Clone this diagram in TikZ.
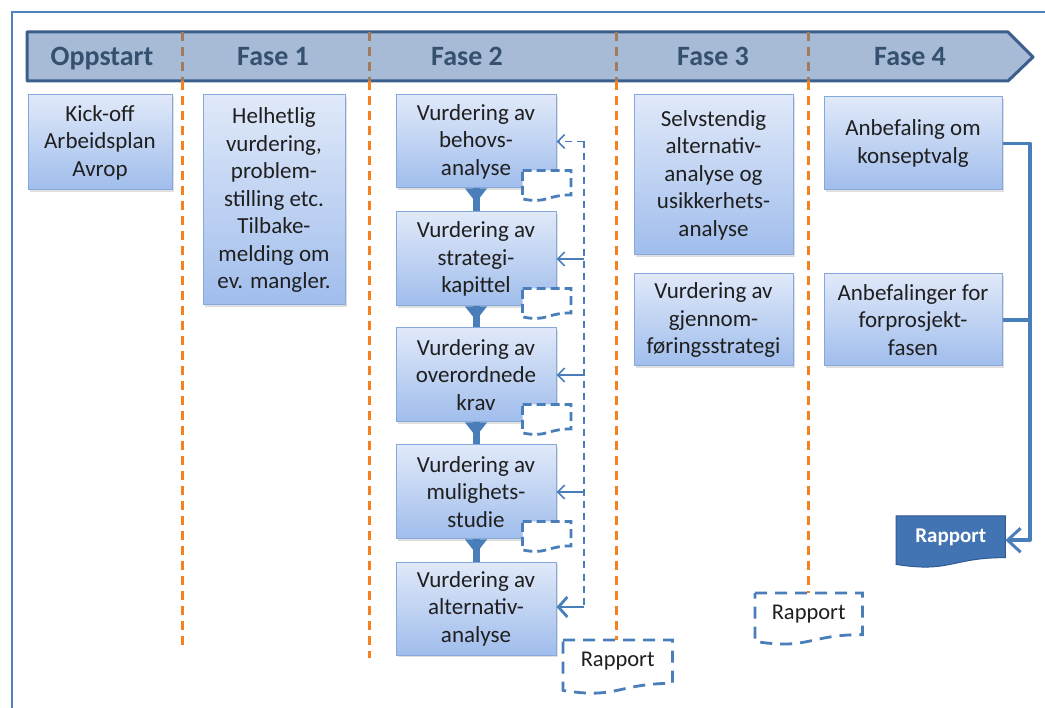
\documentclass[tikz,border=0pt]{standalone}
\usepackage{fontspec}
\setmainfont{Carlito}
\usetikzlibrary{arrows.meta,calc,shadows,backgrounds}

\definecolor{frameblue}{HTML}{4F81BD}
\definecolor{bannerfill}{HTML}{A7BBD6}
\definecolor{bannerline}{HTML}{3A5F8C}
\definecolor{phasetext}{HTML}{36506F}
\definecolor{boxtop}{HTML}{E0E9F9}
\definecolor{boxbot}{HTML}{A0BDEC}
\definecolor{boxline}{HTML}{86A8DA}
\definecolor{sepor}{HTML}{F5821F}
\definecolor{sepbr}{HTML}{A27A5C}
\definecolor{flow}{HTML}{4A7EBB}
\definecolor{rapfill}{HTML}{4274B4}
\definecolor{rapline}{HTML}{2F5A92}

% outline of a document symbol (wavy lower edge) around a node
\newcommand\docoutline[2]{%
  \path[#2] (#1.north west) -- (#1.north east)
    -- ($(#1.north east)!0.86!(#1.south east)$)
    .. controls ($(#1.north)!0.86!(#1.south)$) and ($(#1.north)!1.18!(#1.south)$)
    .. (#1.south west) -- cycle;}

\begin{document}
\begin{tikzpicture}[x=1pt,y=-1pt,
  phase/.style={font=\fontsize{28}{32}\selectfont\bfseries, text=phasetext, anchor=base},
  task/.style={draw=boxline, line width=1pt, top color=boxtop, bottom color=boxbot,
    align=center, font=\fontsize{23}{27.5}\selectfont, text=black!88, inner sep=0pt,
    drop shadow={opacity=0.25, shadow xshift=1.5pt, shadow yshift=-2pt}},
  docbox/.style={inner sep=0pt, anchor=north west},
  doctext/.style={font=\fontsize{22.5}{26}\selectfont, text=black!88},
  smalldoc/.style={draw=flow, fill=white, line width=2.8pt, dash pattern=on 9pt off 5pt},
  bigdoc/.style={draw=flow, line width=2.8pt, dash pattern=on 12pt off 8pt},
  sepin/.style={draw=sepbr, line width=3pt, dash pattern=on 9pt off 6pt},
  sepout/.style={draw=sepor, line width=3pt, dash pattern=on 9pt off 6pt},
  fbline/.style={draw=flow, line width=2pt, dash pattern=on 7pt off 5pt},
  fbarrow/.style={draw=flow, line width=1.6pt, -{Straight Barb[length=7pt,width=14pt]}},
  fbarrowbig/.style={draw=flow, line width=2.8pt, -{Straight Barb[length=9pt,width=20pt]}},
  stem/.style={draw=flow, line width=7pt},
  conn/.style={draw=flow, line width=3.5pt, line join=round}]

\useasboundingbox (0,0) rectangle (1045,708);
\fill[white] (0,0) rectangle (1045,708);

% frame
\draw[frameblue, line width=2.5pt] (12,708) -- (12,12) -- (1045,12);

% phase banner
\draw[fill=bannerfill, draw=bannerline, line width=3pt, line join=round]
  (27,32) -- (1008,32) -- (1033,57) -- (1008,81) -- (27,81) -- cycle;
\node[phase] (p0) at (102,66) {Oppstart};
\node[phase] (p1) at (273,66) {Fase 1};
\node[phase] (p2) at (467,66) {Fase 2};
\node[phase] (p3) at (713,66) {Fase 3};
\node[phase] (p4) at (910,66) {Fase 4};

% phase separators
\coordinate (s1a) at (182,32); \coordinate (s1b) at (182,81); \coordinate (s1c) at (182,650);
\coordinate (s2a) at (369,32); \coordinate (s2b) at (369,81); \coordinate (s2c) at (369,658);
\coordinate (s3a) at (616,32); \coordinate (s3b) at (616,81); \coordinate (s3c) at (616,640);
\coordinate (s4a) at (808,32); \coordinate (s4b) at (808,81); \coordinate (s4c) at (808,593);
\foreach \s in {s1,s2,s3,s4}{
  \draw[sepin] (\s a) -- (\s b);
  \draw[sepout] (\s b) -- (\s c);
}

% tasks
\node[task, minimum width=144, minimum height=95] (ko) at (100,142.5)
  {Kick-off\\Arbeidsplan\\Avrop};
\node[task, minimum width=142, minimum height=210] (hh) at (274,200)
  {Helhetlig\\vurdering,\\problem-\\stilling etc.\\Tilbake-\\melding om\\ev. mangler.};

\node[task, minimum width=160, minimum height=93] (v1) at (476,141.5)
  {Vurdering av\\behovs-\\analyse};
\node[task, minimum width=160, minimum height=94] (v2) at (476,259)
  {Vurdering av\\strategi-\\kapittel};
\node[task, minimum width=160, minimum height=94] (v3) at (476,375)
  {Vurdering av\\overordnede\\krav};
\node[task, minimum width=160, minimum height=94] (v4) at (476,492)
  {Vurdering av\\mulighets-\\studie};
\node[task, minimum width=160, minimum height=93] (v5) at (476,608.5)
  {Vurdering av\\alternativ-\\analyse};

\node[task, minimum width=159, minimum height=160] (f1) at (713.5,175)
  {Selvstendig\\alternativ-\\analyse og\\usikkerhets-\\analyse};
\node[task, minimum width=159, minimum height=92] (f2) at (713.5,320)
  {Vurdering av\\gjennom-\\føringsstrategi};

\node[task, minimum width=178, minimum height=93] (a1) at (913,143.5)
  {Anbefaling om\\konseptvalg};
\node[task, minimum width=178, minimum height=92] (a2) at (913,320)
  {Anbefalinger for\\forprosjekt-\\fasen};

% downward flow between the assessments
\foreach \u/\l in {v1/v2,v2/v3,v3/v4,v4/v5}{
  \draw[stem] (\u.south) -- (\l.north);
  \fill[flow] ($(\u.south)+(-11,0)$) -- ($(\u.south)+(11,0)$) -- ($(\u.south)+(0,14)$) -- cycle;
}

% small document markers
\foreach \b in {v1,v2,v3,v4}{
  \node[docbox, minimum width=48, minimum height=28] (d\b) at ($(\b.south east)+(-34,-18)$) {};
  \docoutline{d\b}{smalldoc}
}

% feedback from the report
\coordinate (fbtop) at (584,141.5);
\coordinate (fbbot) at (584,607);
\draw[fbline] (fbtop) -- (fbbot);
\draw[fbarrow, dash pattern=on 7pt off 5pt] (fbtop) -- (v1.east);
\draw[fbarrow] (v2.east -| fbtop) -- (v2.east);
\draw[fbarrow] (v3.east -| fbtop) -- (v3.east);
\draw[fbarrow] (v4.east -| fbtop) -- (v4.east);
\draw[fbarrowbig] (fbbot) -- (fbbot -| v5.east);

% dashed reports
\node[docbox, minimum width=109, minimum height=50] (r2) at (563,640) {};
\docoutline{r2}{bigdoc}
\node[doctext] (r2t) at ($(r2.center)+(0,-4)$) {Rapport};

\node[docbox, minimum width=107, minimum height=48] (r3) at (755,593) {};
\docoutline{r3}{bigdoc}
\node[doctext] (r3t) at ($(r3.center)+(0,-3)$) {Rapport};

% final report
\node[docbox, minimum width=109, minimum height=48] (rf) at (896,516) {};
\docoutline{rf}{fill=rapfill, draw=rapline, line width=1pt}
\node[font=\fontsize{21}{24}\selectfont\bfseries, text=white] (rft) at ($(rf.center)+(0,-3)$) {Rapport};

% recommendations feed the final report
\coordinate (bus) at (1030,0);
\draw[conn, -{Straight Barb[length=13pt,width=24pt,line width=3pt]}]
  (a1.east) -- (a1.east -| bus) -- (rf.east -| bus) -- (rf.east);
\draw[conn] (a2.east) -- (a2.east -| bus);

\end{tikzpicture}
\end{document}
